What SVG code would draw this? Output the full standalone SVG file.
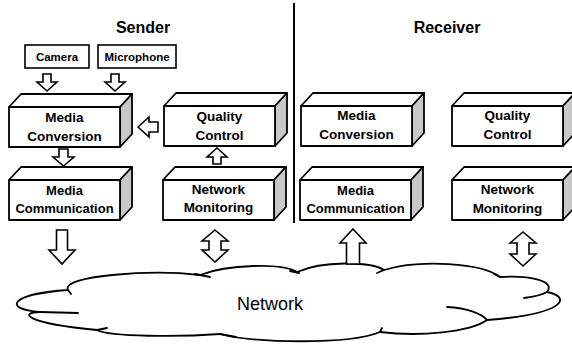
<svg xmlns="http://www.w3.org/2000/svg" xmlns:xlink="http://www.w3.org/1999/xlink" width="572" height="349" viewBox="0 0 572 349">
  <style>
    .face { fill: #ffffff; stroke: #000; stroke-width: 1.8; stroke-linejoin: round; }
    .side { fill: #c8c8c8; stroke: #000; stroke-width: 1.8; stroke-linejoin: round; }
    .src { fill: #ffffff; stroke: #000; stroke-width: 1.6; }
    .arrow { fill: #ffffff; stroke: #000; stroke-width: 1.6; stroke-linejoin: miter; }
    .cloud { fill: #ffffff; stroke: #000; stroke-width: 1.8; stroke-linejoin: round; }
    .hook { fill: none; stroke: #000; stroke-width: 1.8; stroke-linecap: round; }
    .divider { stroke: #000; stroke-width: 2; }
    .title { font-family: "Liberation Sans", Arial, sans-serif; font-weight: bold; font-size: 16px; text-anchor: middle; fill: #000; }
    .lbl { font-family: "Liberation Sans", Arial, sans-serif; font-weight: bold; font-size: 13.5px; text-anchor: middle; fill: #000; }
    .lbl-s { font-family: "Liberation Sans", Arial, sans-serif; font-weight: bold; font-size: 13px; text-anchor: middle; fill: #000; }
    .src-lbl { font-family: "Liberation Sans", Arial, sans-serif; font-weight: bold; font-size: 11.5px; text-anchor: middle; fill: #000; }
    .net { font-family: "Liberation Sans", Arial, sans-serif; font-size: 18px; text-anchor: middle; fill: #000; }
  </style>
  <defs>
    <!-- extruded block: front face at origin, 111 x 40, depth offset (12,-13) -->
    <g id="block">
      <path class="face" d="M0,0 L12,-13 L123,-13 L111,0 Z"/>
      <path class="side" d="M111,0 L123,-13 L123,27 L111,40 Z"/>
      <rect class="face" x="0" y="0" width="111" height="40"/>
    </g>
  </defs>

  <rect x="0" y="0" width="572" height="349" fill="#ffffff"/>

  <!-- section headings and divider -->
  <text class="title" x="143" y="33">Sender</text>
  <text class="title" x="447" y="33">Receiver</text>
  <line class="divider" x1="294" y1="3" x2="294" y2="223"/>

  <!-- network cloud -->
  <g id="network">
    <path class="cloud" d="M68,290
      C60,276 150,269 200,275
      C228,264 282,263 297,272
      C322,261 370,261 384,270
      C420,259 482,263 500,277
      C530,275 556,281 547,292
      C572,297 566,314 487,320
      C470,332 420,337 380,332
      C350,345 250,343 220,334
      C180,337 110,337 97,330
      C22,323 20,312 40,312
      C2,309 10,294 68,290 Z"/>
    <path class="hook" d="M195,274 L210,277"/>
    <path class="hook" d="M290,271 L299,273"/>
    <path class="hook" d="M384,270 L377,273"/>
    <path class="hook" d="M500,277 L494,274"/>
    <path class="hook" d="M547,292 C540,296 532,297 524,298"/>
    <path class="hook" d="M447,307 C468,308 482,314 487,320"/>
    <path class="hook" d="M380,332 L382,328"/>
    <path class="hook" d="M220,334 L236,337"/>
    <path class="hook" d="M97,330 L107,328"/>
    <path class="hook" d="M40,312 L78,313"/>
    <path class="hook" d="M68,290 L71,294"/>
    <text class="net" x="270" y="310">Network</text>
  </g>

  <!-- capture devices -->
  <g id="camera">
    <rect class="src" x="25" y="45" width="64" height="23"/>
    <text class="src-lbl" x="57" y="61">Camera</text>
  </g>
  <g id="microphone">
    <rect class="src" x="98" y="45" width="78" height="23"/>
    <text class="src-lbl" x="137" y="61">Microphone</text>
  </g>

  <!-- sender blocks -->
  <g id="sender-media-conversion" transform="translate(9,107)">
    <use xlink:href="#block"/>
    <text class="lbl" x="55.5" y="15">Media</text>
    <text class="lbl" x="55.5" y="34">Conversion</text>
  </g>
  <g id="sender-quality-control" transform="translate(164,106)">
    <use xlink:href="#block"/>
    <text class="lbl" x="55.5" y="15">Quality</text>
    <text class="lbl" x="55.5" y="34">Control</text>
  </g>
  <g id="sender-media-communication" transform="translate(9,180)">
    <use xlink:href="#block"/>
    <text class="lbl-s" x="55.5" y="15">Media</text>
    <text class="lbl-s" x="55.5" y="33">Communication</text>
  </g>
  <g id="sender-network-monitoring" transform="translate(163,180)">
    <use xlink:href="#block"/>
    <text class="lbl" x="55.5" y="14">Network</text>
    <text class="lbl" x="55.5" y="32">Monitoring</text>
  </g>

  <!-- receiver blocks -->
  <g id="receiver-media-conversion" transform="translate(301,106)">
    <use xlink:href="#block"/>
    <text class="lbl" x="55.5" y="14">Media</text>
    <text class="lbl" x="55.5" y="33">Conversion</text>
  </g>
  <g id="receiver-quality-control" transform="translate(452,106)">
    <use xlink:href="#block"/>
    <text class="lbl" x="55.5" y="14">Quality</text>
    <text class="lbl" x="55.5" y="33">Control</text>
  </g>
  <g id="receiver-media-communication" transform="translate(300,180)">
    <use xlink:href="#block"/>
    <text class="lbl-s" x="55.5" y="15">Media</text>
    <text class="lbl-s" x="55.5" y="33">Communication</text>
  </g>
  <g id="receiver-network-monitoring" transform="translate(452,180)">
    <use xlink:href="#block"/>
    <text class="lbl" x="55.5" y="14">Network</text>
    <text class="lbl" x="55.5" y="33">Monitoring</text>
  </g>

  <!-- block arrows -->
  <g id="connectors">
    <path class="arrow" d="M43,74 H51 V82 H57 L47,91 L37,82 H43 Z"/>
    <path class="arrow" d="M111,74 H119 V82 H125 L115,91 L105,82 H111 Z"/>
    <path class="arrow" d="M59,149 H68 V157 H74 L63.5,166 L53,157 H59 Z"/>
    <path class="arrow" d="M158,122 V132 H149 V137 L138,127 L149,117 V122 Z"/>
    <path class="arrow" d="M213,164 V157 H207 L217,148 L227,157 H221 V164 Z"/>
    <path class="arrow" d="M56.5,230 H67.5 V250 H75 L62,264 L49,250 H56.5 Z"/>
    <path class="arrow" d="M215,230 L228,241 H221 V250 H228 L215,262 L202,250 H209 V241 H202 Z"/>
    <path class="arrow" d="M353,229 L366,243 H359.5 V264 H346.5 V243 H340 Z"/>
    <path class="arrow" d="M523,232 L536,243 H529 V254 H536 L523,266 L510,254 H517 V243 H510 Z"/>
  </g>
</svg>
